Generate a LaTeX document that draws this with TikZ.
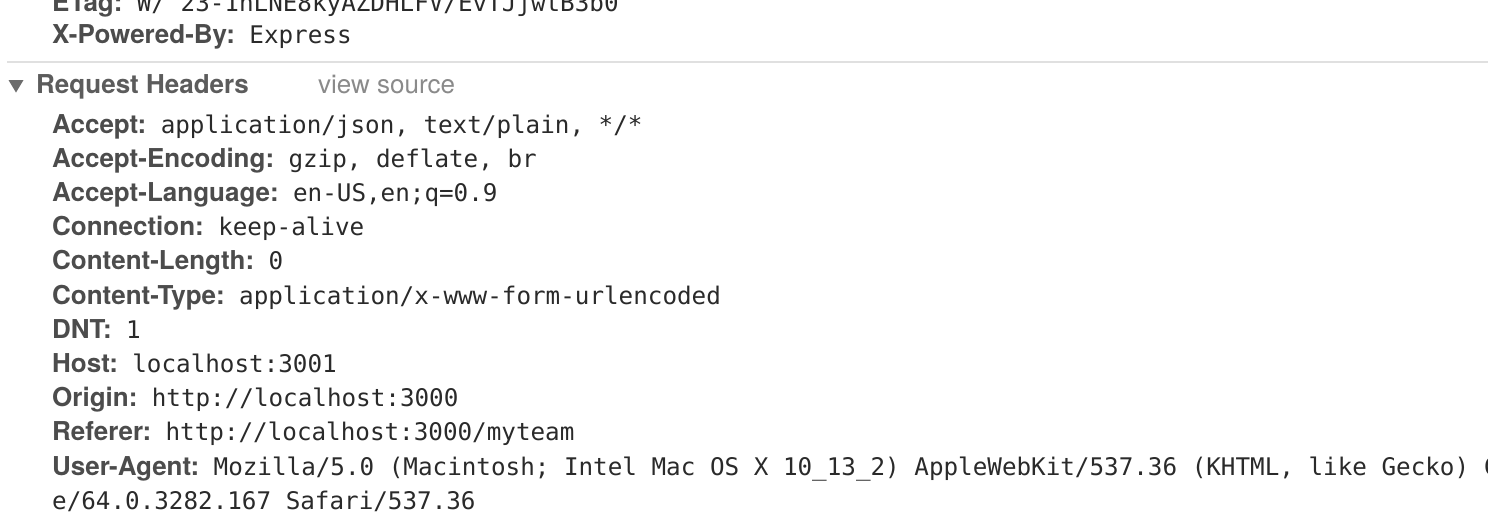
\documentclass[tikz,border=0pt]{standalone}
\usepackage{fontspec}
\setmainfont{TeX Gyre Heros}
\setmonofont{DejaVu Sans Mono}
\definecolor{keygray}{HTML}{4C4C4C}
\definecolor{valgray}{HTML}{2A2A2A}
\definecolor{headgray}{HTML}{5C5C5C}
\definecolor{srcgray}{HTML}{8A8A8A}
\definecolor{rulegray}{HTML}{E0E0E0}
\begin{document}
\begin{tikzpicture}[x=1pt,y=-1pt,
    hkey/.style={anchor=base west,inner sep=0pt,text=keygray,font=\fontsize{26}{30}\selectfont\bfseries},
    hval/.style={anchor=base west,inner sep=0pt,text=valgray,font=\fontsize{24.25}{28}\selectfont\ttfamily}]
   \useasboundingbox (0,0) rectangle (1488,528);
   \fill[white] (0,0) rectangle (1488,528);
   \clip (0,0) rectangle (1488,528);
   % response headers, cut at the top
   \node[hkey] (etag) at (52,11) {ETag:};
   \node[hval] (etagv) at ([xshift=14pt]etag.base east) {W/"23-1nLNE8kyAZDHLFV/EvTJjwtB3b0"};
   \node[hkey] (xpow) at (52,43) {X-Powered-By:};
   \node[hval] (xpowv) at ([xshift=14pt]xpow.base east) {Express};
   \draw[rulegray,line width=2pt] (7,62) -- (1488,62);
   % section title
   \fill[headgray!90] (8.5,80) -- (23.5,80) -- (16,92.5) -- cycle;
   \node[hkey,text=headgray] (reqhead) at (36,93) {Request Headers};
   \node[hkey,text=srcgray,font=\fontsize{26}{30}\selectfont] (viewsrc) at (318,93) {view source};
   % request headers
   \node[hkey] (accept) at (52,133) {Accept:};
   \node[hval] (acceptv) at ([xshift=14pt]accept.base east) {application/json, text/plain, */*};
   \node[hkey] (acenc) at (52,167.2) {Accept-Encoding:};
   \node[hval] (acencv) at ([xshift=14pt]acenc.base east) {gzip, deflate, br};
   \node[hkey] (aclang) at (52,201.4) {Accept-Language:};
   \node[hval] (aclangv) at ([xshift=14pt]aclang.base east) {en-US,en;q=0.9};
   \node[hkey] (conn) at (52,235.6) {Connection:};
   \node[hval] (connv) at ([xshift=14pt]conn.base east) {keep-alive};
   \node[hkey] (clen) at (52,269.8) {Content-Length:};
   \node[hval] (clenv) at ([xshift=14pt]clen.base east) {0};
   \node[hkey] (ctype) at (52,304) {Content-Type:};
   \node[hval] (ctypev) at ([xshift=14pt]ctype.base east) {application/x-www-form-urlencoded};
   \node[hkey] (dnt) at (52,338.2) {DNT:};
   \node[hval] (dntv) at ([xshift=14pt]dnt.base east) {1};
   \node[hkey] (host) at (52,372.4) {Host:};
   \node[hval] (hostv) at ([xshift=14pt]host.base east) {localhost:3001};
   \node[hkey] (origin) at (52,406.6) {Origin:};
   \node[hval] (originv) at ([xshift=14pt]origin.base east) {http://localhost:3000};
   \node[hkey] (referer) at (52,440.8) {Referer:};
   \node[hval] (refererv) at ([xshift=14pt]referer.base east) {http://localhost:3000/myteam};
   \node[hkey] (uagent) at (52,475) {User-Agent:};
   \node[hval] (uagentv) at ([xshift=14pt]uagent.base east) {Mozilla/5.0 (Macintosh; Intel Mac OS X 10\_13\_2) AppleWebKit/537.36 (KHTML, like Gecko) Chrom};
   \node[hval] (uagentw) at (52,509.2) {e/64.0.3282.167 Safari/537.36};
\end{tikzpicture}
\end{document}
